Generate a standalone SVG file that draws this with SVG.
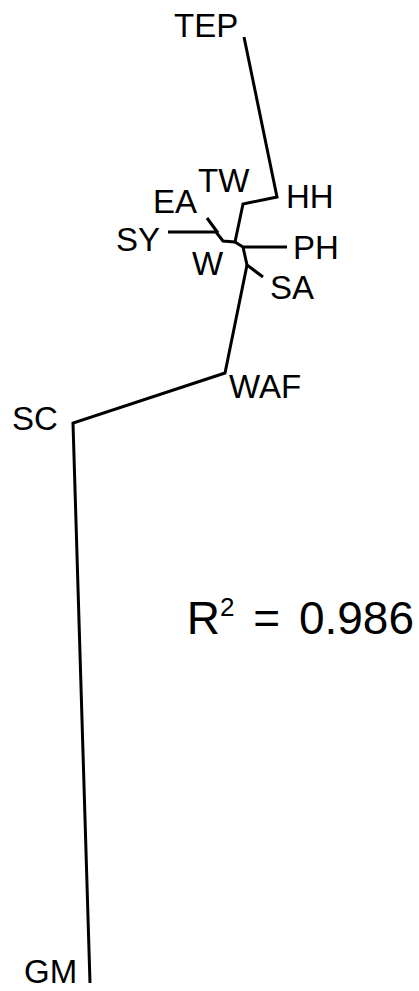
<svg xmlns="http://www.w3.org/2000/svg" width="419" height="991" viewBox="0 0 419 991">
<style>
.lbl{font-family:"Liberation Sans",Arial,sans-serif;font-size:33px;fill:#000}
.big{font-family:"Liberation Sans",Arial,sans-serif;font-size:46px;fill:#000;word-spacing:6px}
.br{fill:none;stroke:#000;stroke-width:3;stroke-linejoin:miter;stroke-linecap:butt}
</style>
<rect width="419" height="991" fill="#fff"/>
<g id="connectors">
<polyline class="br" points="244,37 277,197 243,204 235,242"/>
<polyline class="br" points="168,232 216,232 223,241 235,242"/>
<polyline class="br" points="207,218 218,233"/>
<polyline class="br" points="235,242 243,247 287,247"/>
<polyline class="br" points="243,247 247,265 263,277"/>
<polyline class="br" points="247,265 225,373 73,423 90,983"/>
</g>
<g id="TEP"><text class="lbl" x="174" y="37">TEP</text></g>
<g id="TW"><text class="lbl" x="198" y="192">TW</text></g>
<g id="HH"><text class="lbl" x="286" y="208">HH</text></g>
<g id="EA"><text class="lbl" x="153" y="213">EA</text></g>
<g id="SY"><text class="lbl" x="116" y="251">SY</text></g>
<g id="PH"><text class="lbl" x="293" y="259">PH</text></g>
<g id="W"><text class="lbl" x="192" y="275">W</text></g>
<g id="SA"><text class="lbl" x="270" y="299">SA</text></g>
<g id="WAF"><text class="lbl" x="229" y="398">WAF</text></g>
<g id="SC"><text class="lbl" x="12" y="430">SC</text></g>
<g id="GM"><text class="lbl" x="24" y="983">GM</text></g>
<g id="r2"><text class="big" x="414" y="634" text-anchor="end">R<tspan font-size="26" dy="-18">2</tspan><tspan dy="18"> = 0.986</tspan></text></g>
</svg>
